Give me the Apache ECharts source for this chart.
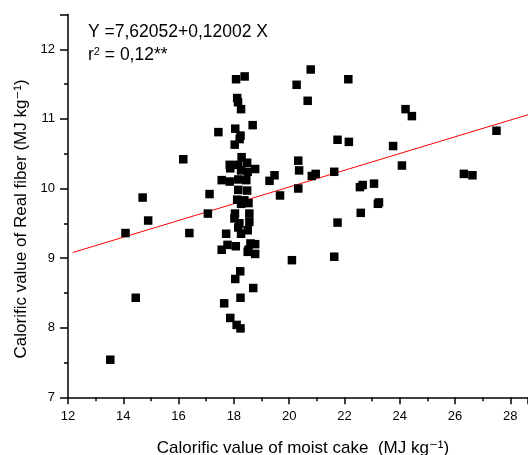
<!DOCTYPE html>
<html>
<head>
<meta charset="utf-8">
<script src="https://cdn.jsdelivr.net/npm/echarts@6/dist/echarts.min.js"></script>
<style>
html,body{margin:0;padding:0;background:#fff;}
#chart{width:528px;height:455px;}
</style>
</head>
<body>
<div id="chart"></div>
<script>
// Calorific value of moist cake (x) vs Real fiber (y), MJ kg-1
const cakeX = [
  13.53, 14.08, 14.45, 14.70, 14.90, 16.17, 16.39, 17.06, 17.12,
  17.44, 17.56, 17.56, 17.65, 17.72, 17.77, 17.85, 17.87, 17.85, 17.87,
  18.02, 18.03, 18.04, 18.05, 18.05, 18.07, 18.08, 18.10, 18.12, 18.12,
  18.15, 18.16, 18.16, 18.16, 18.16, 18.20, 18.21, 18.23, 18.24, 18.24,
  18.24, 18.26, 18.26, 18.26, 18.26, 18.28, 18.38, 18.39, 18.45, 18.48,
  18.48, 18.50, 18.50, 18.50, 18.53, 18.53, 18.56, 18.56, 18.60, 18.68,
  18.70, 18.77, 18.77, 18.77,
  19.29, 19.47, 19.67, 20.10, 20.27, 20.33, 20.33, 20.36, 20.67, 20.78,
  20.82, 20.96, 21.63, 21.63, 21.75, 21.75, 22.14, 22.16, 22.56, 22.66,
  22.59, 23.07, 23.21, 23.25, 23.76, 24.08, 24.21, 24.44, 26.32, 26.63,
  27.50
];
const fiberY = [
  7.54, 9.36, 8.43, 9.87, 9.54, 10.42, 9.36, 9.64, 9.92,
  10.81, 10.12, 9.12, 8.35, 9.35, 9.19, 10.34, 10.29, 10.10, 8.14,
  9.57, 10.63, 9.64, 10.86, 8.70, 9.17, 11.57, 8.04, 11.30, 9.84,
  11.24, 10.34, 10.13, 9.98, 9.44, 9.50, 10.71, 8.81, 10.76, 8.43,
  7.99, 11.14, 10.26, 9.78, 9.35, 10.45, 9.83, 11.61, 10.12, 10.37,
  9.97, 10.24, 9.40, 9.09, 9.79, 9.12, 9.64, 9.52, 9.21, 10.91,
  8.57, 10.28, 9.20, 9.06,
  10.11, 10.19, 9.90, 8.97, 11.49, 10.40, 10.00, 10.26, 11.26, 11.71,
  10.18, 10.21, 10.24, 9.02, 10.70, 9.51, 11.57, 10.67, 10.02, 10.05,
  9.65, 10.07, 9.78, 9.80, 10.61, 10.33, 11.14, 11.04, 10.21, 10.19,
  10.83
];
// fitted line end points (Y = 7,62052 + 0,12002 X)
const fitX = [12.17, 28.64];
const fitY = [9.08, 11.06];
const xTicks = { min: 12, max: 28.64, interval: 2 };
const yTicks = { min: 7, max: 12.5, interval: 1 };
const equationText = 'Y =7,62052+0,12002 X';
const r2Text = '0,12**';
const xTitle = 'Calorific value of moist cake  (MJ kg\u207B\u00B9)';
const yTitle = 'Calorific value of Real fiber (MJ kg\u207B\u00B9)';

const FONT = '"Liberation Sans", Arial, "DejaVu Sans", sans-serif';
const points = cakeX.map((x, i) => [x, fiberY[i]]);
const fitLine = fitX.map((x, i) => [x, fitY[i]]);

const chart = echarts.init(document.getElementById('chart'), null, { renderer: 'canvas' });
chart.setOption({
  animation: false,
  backgroundColor: '#fff',
  grid: { left: 68, right: 0, top: 14.5, bottom: 57.7, containLabel: false, outerBoundsMode: 'none' },
  xAxis: {
    type: 'value',
    min: xTicks.min, max: xTicks.max, interval: xTicks.interval,
    name: '{p|}{t|' + xTitle + '}',
    nameLocation: 'middle',
    nameGap: 43,
    nameTextStyle: {
      fontSize: 17, fontFamily: FONT, color: '#000',
      rich: { p: { width: 10 }, t: { fontSize: 17, fontFamily: FONT, color: '#000' } }
    },
    axisLine: { show: true, onZero: false, lineStyle: { color: '#000', width: 1.5 } },
    axisTick: { show: true, inside: false, length: 7, lineStyle: { color: '#000', width: 1.5 } },
    minorTick: { show: true, splitNumber: 2, length: 4, lineStyle: { color: '#000', width: 1.5 } },
    axisLabel: { fontSize: 13, fontFamily: FONT, color: '#000', margin: 13, showMaxLabel: false },
    splitLine: { show: false },
    minorSplitLine: { show: false }
  },
  yAxis: {
    type: 'value',
    min: yTicks.min, max: yTicks.max, interval: yTicks.interval,
    name: '{t|' + yTitle + '}{p|}',
    nameLocation: 'middle',
    nameGap: 34,
    nameRotate: 90,
    nameTextStyle: {
      fontSize: 17, fontFamily: FONT, color: '#000',
      rich: { p: { width: 26 }, t: { fontSize: 17, fontFamily: FONT, color: '#000' } }
    },
    axisLine: { show: true, onZero: false, lineStyle: { color: '#000', width: 1.5 } },
    axisTick: { show: true, inside: false, length: 8, lineStyle: { color: '#000', width: 1.5 } },
    minorTick: { show: true, splitNumber: 2, length: 4, lineStyle: { color: '#000', width: 1.5 } },
    axisLabel: { fontSize: 13, fontFamily: FONT, color: '#000', margin: 13, showMaxLabel: false },
    splitLine: { show: false },
    minorSplitLine: { show: false }
  },
  graphic: [
    { type: 'text', left: 88, top: 23, style: { text: equationText, font: '17.5px ' + FONT, fill: '#000' } },
    { type: 'text', left: 88, top: 46, style: {
        text: '{n|r}{s|2}{n| = ' + r2Text + '}',
        fill: '#000',
        rich: {
          n: { fontSize: 17.5, fontFamily: FONT, fill: '#000', lineHeight: 18 },
          s: { fontSize: 11, fontFamily: FONT, fill: '#000', verticalAlign: 'top', lineHeight: 8 }
        }
    } }
  ],
  series: [
    {
      type: 'line',
      data: fitLine,
      symbol: 'none',
      lineStyle: { color: '#ff0000', width: 1 },
      silent: true,
      z: 1
    },
    {
      type: 'scatter',
      data: points,
      symbol: 'rect',
      symbolSize: 8.5,
      itemStyle: { color: '#000', opacity: 1 },
      z: 2
    }
  ]
});
</script>
</body>
</html>
